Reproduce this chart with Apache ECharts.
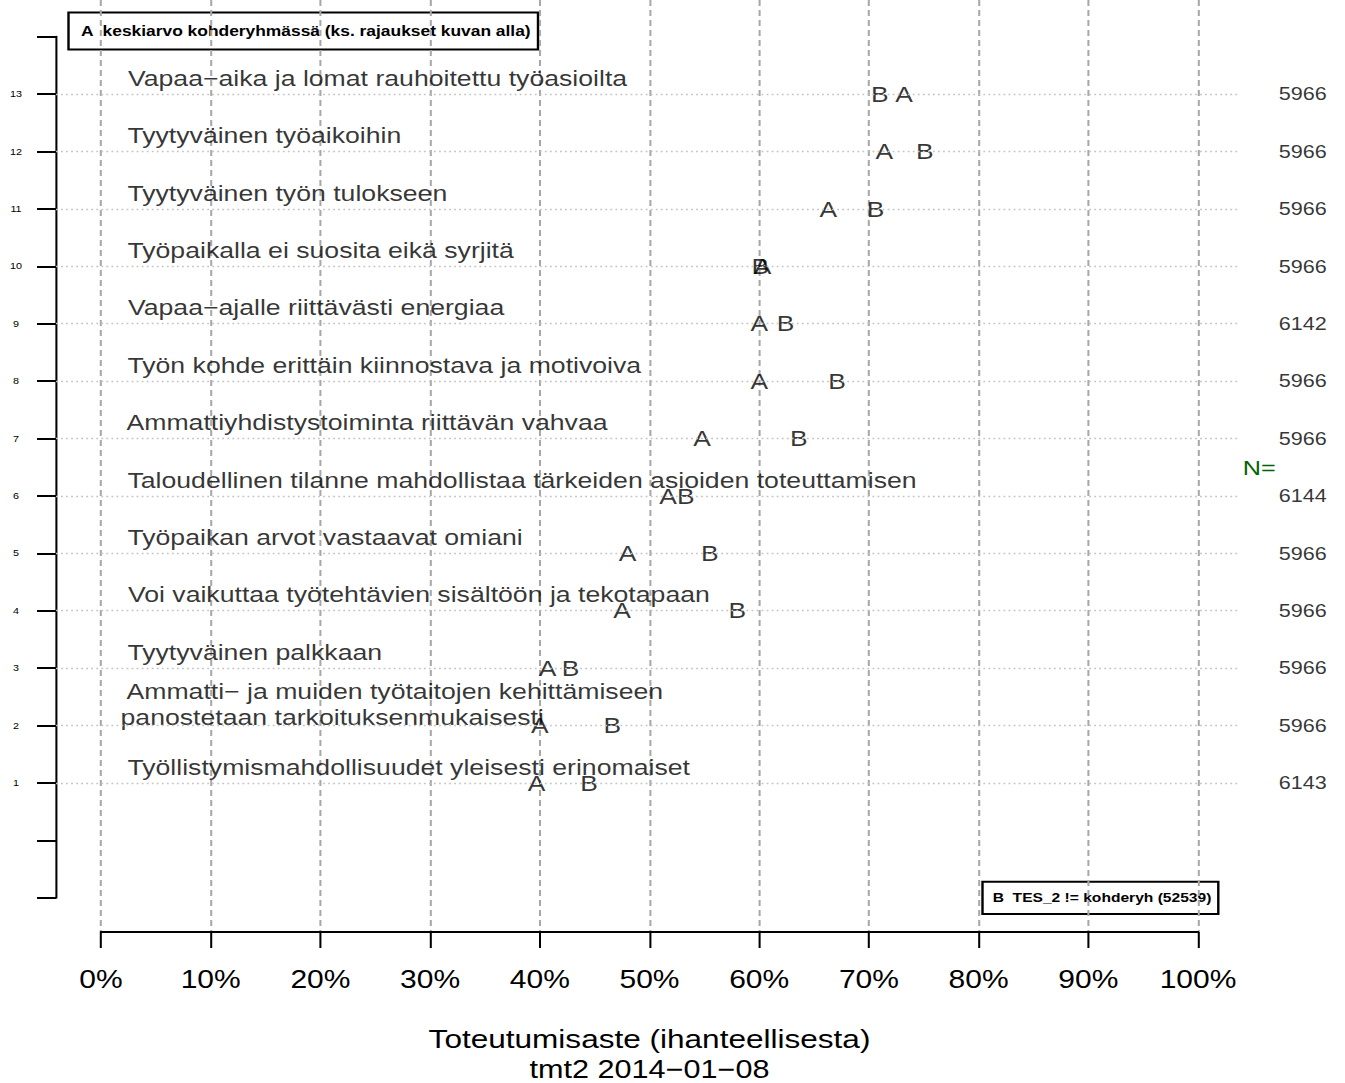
<!DOCTYPE html>
<html>
<head>
<meta charset="utf-8">
<script src="https://cdn.jsdelivr.net/npm/echarts@6/dist/echarts.min.js"></script>
<style>
html,body{margin:0;padding:0;background:#fff;overflow:hidden;width:1345px;height:1083px;}
#chart{width:1120.833px;height:1083px;transform:scaleX(1.2);transform-origin:0 0;}
</style>
</head>
<body>
<div id="chart"></div>
<script>
// ---- data (row 1 = bottom, row 13 = top) ----
const categories = [
  'Työllistymismahdollisuudet yleisesti erinomaiset',
  'Ammatti− ja muiden työtaitojen kehittämiseen\npanostetaan tarkoituksenmukaisesti',
  'Tyytyväinen palkkaan',
  'Voi vaikuttaa työtehtävien sisältöön ja tekotapaan',
  'Työpaikan arvot vastaavat omiani',
  'Taloudellinen tilanne mahdollistaa tärkeiden asioiden toteuttamisen',
  'Ammattiyhdistystoiminta riittävän vahvaa',
  'Työn kohde erittäin kiinnostava ja motivoiva',
  'Vapaa−ajalle riittävästi energiaa',
  'Työpaikalla ei suosita eikä syrjitä',
  'Tyytyväinen työn tulokseen',
  'Tyytyväinen työaikoihin',
  'Vapaa−aika ja lomat rauhoitettu työasioilta'
];
const valuesA = [39.7, 40.0, 40.7, 47.5, 48.0, 51.7, 54.8, 60.0, 60.0, 60.3, 66.3, 71.4, 73.2];
const valuesB = [44.5, 46.6, 42.8, 58.0, 55.5, 53.3, 63.6, 67.1, 62.4, 60.1, 70.6, 75.1, 71.0];
const nValues = [6143, 5966, 5966, 5966, 5966, 6144, 5966, 5966, 6142, 5966, 5966, 5966, 5966];
const xTicks = [0, 10, 20, 30, 40, 50, 60, 70, 80, 90, 100];
const legendA = 'A  keskiarvo kohderyhmässä (ks. rajaukset kuvan alla)';
const legendB = 'B  TES_2 != kohderyh (52539)';
const xTitle = 'Toteutumisaste (ihanteellisesta)';
const subTitle = 'tmt2 2014−01−08';
const nLabel = 'N=';

// ---- layout (page is stretched horizontally by SX) ----
const SX = 1.2;
const WU = 1345 / SX;
const ux = p => p / SX;
const FONT = '"Liberation Sans", Arial, Helvetica, sans-serif';
const rows = categories.map((_, i) => i + 1);
const rowPx = 57.417;
const y0min = 1 - (932 - 783) / rowPx;
const y0max = 13 + 94 / rowPx;

const chart = echarts.init(document.getElementById('chart'), null, {renderer: 'svg', width: WU, height: 1083});

const letterLabel = txt => ({
  show: true, position: [0, 0], formatter: txt, color: '#000',
  fontFamily: FONT, fontSize: 22, align: 'center', verticalAlign: 'middle'
});

chart.setOption({
  animation: false,
  backgroundColor: '#fff',
  textStyle: {fontFamily: FONT},
  grid: [
    {left: ux(101), right: WU - ux(1198), top: 0, bottom: 1083 - 932, outerBoundsMode: 'none', containLabel: false},
    {left: ux(56), right: WU - ux(1240), top: 36.6, height: 861.2, outerBoundsMode: 'none', containLabel: false}
  ],
  xAxis: [
    {
      gridIndex: 0, type: 'value', min: xTicks[0], max: xTicks[xTicks.length - 1], interval: 10,
      axisLine: {show: true, onZero: false, lineStyle: {color: '#000', width: 2}},
      axisTick: {show: true, length: 16, lineStyle: {color: '#000', width: 1.7}},
      axisLabel: {show: true, formatter: v => xTicks.includes(v) ? v + '%' : '', color: '#000', fontSize: 25, margin: 35, fontFamily: FONT},
      splitLine: {show: true, lineStyle: {color: '#a8a8a8', width: 1.7, type: [6, 4]}},
      name: xTitle, nameLocation: 'middle', nameGap: 94,
      nameTextStyle: {color: '#000', fontSize: 26.3, lineHeight: 26, fontFamily: FONT}
    },
    {gridIndex: 1, type: 'value', min: 0, max: 1, show: false}
  ],
  yAxis: [
    {gridIndex: 0, type: 'value', min: y0min, max: y0max, show: false},
    {
      gridIndex: 1, type: 'value', min: -1, max: 14, interval: 1,
      axisLine: {show: true, onZero: false, lineStyle: {color: '#000', width: 1.7}},
      axisTick: {show: true, length: ux(19), lineStyle: {color: '#000', width: 2}},
      axisLabel: {show: true, formatter: v => (v >= 1 && v <= categories.length) ? String(v) : '', color: '#000', fontSize: 9, align: 'center', margin: ux(40), fontFamily: FONT},
      splitLine: {show: false}
    }
  ],
  series: [
    {
      type: 'scatter', xAxisIndex: 1, yAxisIndex: 1, silent: true, symbolSize: 0,
      itemStyle: {color: 'transparent'},
      data: rows.map((r, i) => [1, r, nValues[i]]),
      label: {show: true, position: [ux(1326.7 - 1240), 0], formatter: p => String(p.data[2]), color: '#000', fontSize: 18,
        fontFamily: FONT, align: 'right', verticalAlign: 'middle'},
      labelLayout: {hideOverlap: false},
      markLine: {
        silent: true, symbol: ['none', 'none'], label: {show: false},
        lineStyle: {color: '#c4c4c4', width: 1.3, type: [1.5, 2.7]},
        data: rows.map(r => ({yAxis: r}))
      }
    },
    {
      type: 'scatter', xAxisIndex: 0, yAxisIndex: 0, silent: true, symbolSize: 0,
      itemStyle: {color: 'transparent'},
      data: categories.map((c, i) => {
        const lines = c.split('\n').length;
        return {
          value: [0, rows[i]], name: c,
          label: {position: [ux(120.5 - 101), -16 - (lines - 1) * 5]}
        };
      }),
      label: {show: true, formatter: p => ' ' + p.name, color: '#000', fontSize: 22.2, lineHeight: 26,
        fontFamily: FONT, align: 'left', verticalAlign: 'middle'},
      labelLayout: {hideOverlap: false}
    },
    {
      type: 'scatter', xAxisIndex: 0, yAxisIndex: 0, silent: true, symbolSize: 0, z: 3,
      itemStyle: {color: 'transparent'},
      data: valuesA.map((v, i) => [v, rows[i]]),
      label: letterLabel('A'), labelLayout: {hideOverlap: false}
    },
    {
      type: 'scatter', xAxisIndex: 0, yAxisIndex: 0, silent: true, symbolSize: 0, z: 4,
      itemStyle: {color: 'transparent'},
      data: valuesB.map((v, i) => [v, rows[i]]),
      label: letterLabel('B'), labelLayout: {hideOverlap: false}
    }
  ],
  graphic: [
    {
      type: 'group', x: ux(68.5), y: 12.5, silent: true,
      children: [
        {type: 'rect', shape: {x: 0, y: 0, width: ux(538) - ux(68.5), height: 37}, style: {fill: 'none', stroke: '#000', lineWidth: 2}},
        {type: 'text', x: ux(81) - ux(68.5), y: 18.5, style: {text: legendA, fill: '#000', fontSize: 14.5, fontWeight: 'bold', fontFamily: FONT, verticalAlign: 'middle', align: 'left'}}
      ]
    },
    {
      type: 'group', x: ux(982.5), y: 881.7, silent: true,
      children: [
        {type: 'rect', shape: {x: 0, y: 0, width: ux(1218.3) - ux(982.5), height: 32.3}, style: {fill: 'none', stroke: '#000', lineWidth: 2}},
        {type: 'text', x: ux(992.7) - ux(982.5), y: 16.2, style: {text: legendB, fill: '#000', fontSize: 13, fontWeight: 'bold', fontFamily: FONT, verticalAlign: 'middle', align: 'left'}}
      ]
    },
    {
      type: 'text', x: ux(1242.7), y: 467.5, silent: true,
      style: {text: nLabel, fill: '#006400', fontSize: 21, fontFamily: FONT, verticalAlign: 'middle', align: 'left'}
    },
    {
      type: 'text', x: ux(649.5), y: 1069, silent: true,
      style: {text: subTitle, fill: '#000', fontSize: 25.5, lineHeight: 20, fontFamily: FONT, verticalAlign: 'middle', align: 'center'}
    }
  ]
});
</script>
</body>
</html>
